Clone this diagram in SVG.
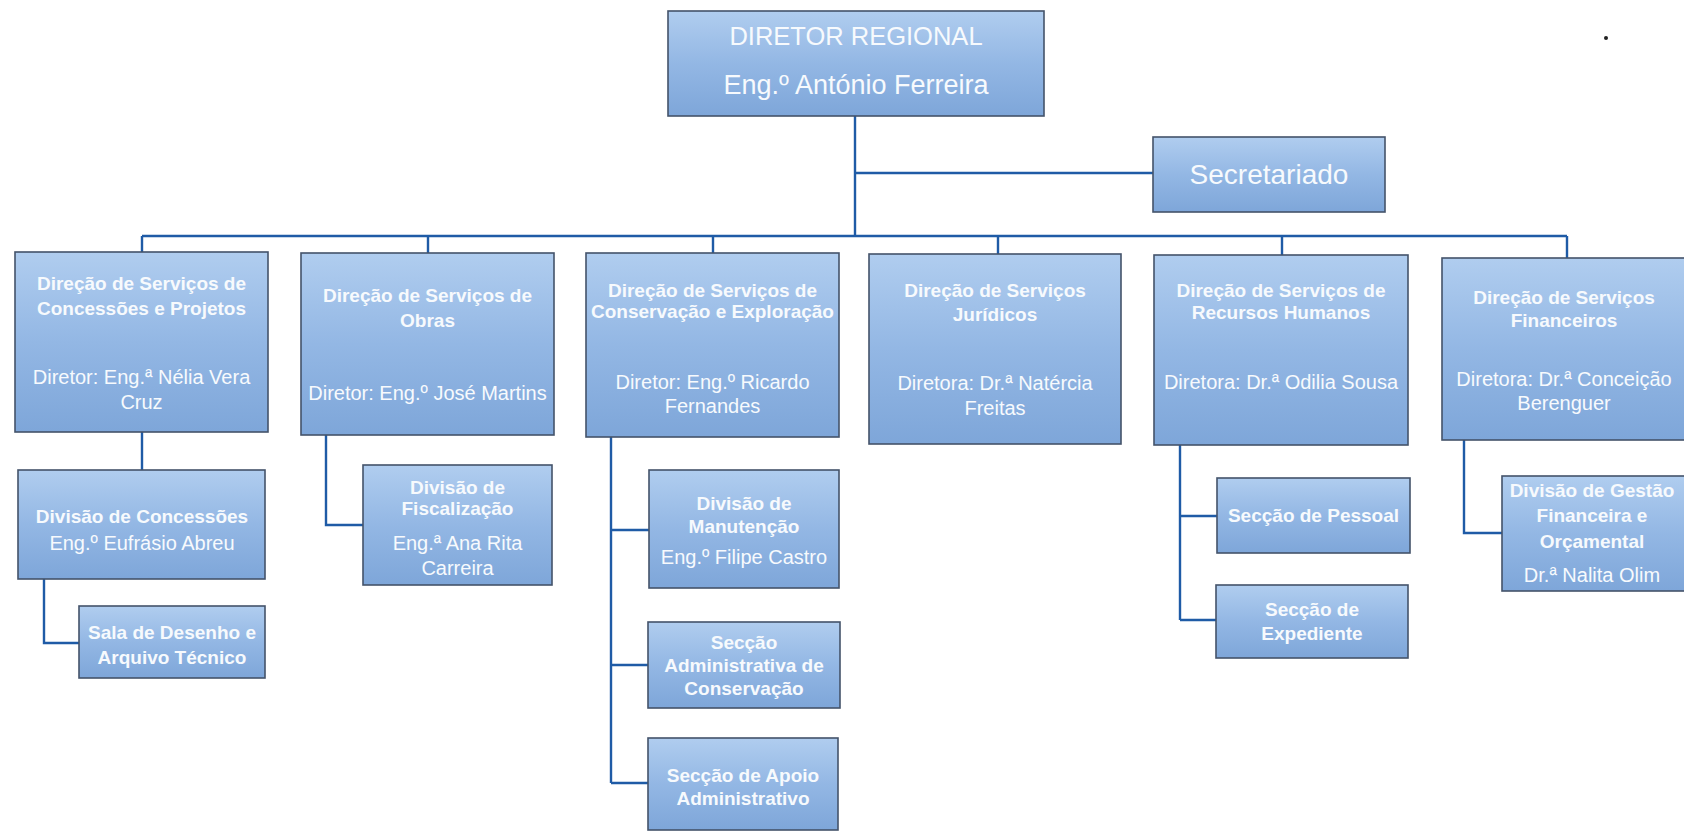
<svg xmlns="http://www.w3.org/2000/svg" width="1684" height="835" viewBox="0 0 1684 835">
<defs>
<linearGradient id="g" x1="0" y1="0" x2="0" y2="1">
<stop offset="0" stop-color="#b0cdef"/>
<stop offset="0.5" stop-color="#93b7e4"/>
<stop offset="1" stop-color="#7ea6d9"/>
</linearGradient>
<style>
.box{fill:url(#g);stroke:#44536a;stroke-width:1.6}
.t{font-family:"Liberation Sans",Arial,sans-serif;fill:#f7fafd;text-anchor:middle}
.b{font-weight:bold;font-size:19px}
.r{font-size:20px}
.s{font-size:20px}
.con{fill:none;stroke:#1f5ba6;stroke-width:2.4}
</style>
</defs>
<rect width="1684" height="835" fill="#ffffff"/>
<g id="connectors">
<path class="con" d="M855 116V236M855 173H1153M142 236H1567M142 236V252M428 236V253M713 236V253M998 236V254M1282 236V255M1567 236V258"/>
<path class="con" d="M142 432V470M44 579V643H79M326 435V525H363M611 437V783M611 530H649M611 665H648M611 783H648M1180 445V620M1180 516H1217M1180 620H1216M1464 440V533H1502"/>
</g>
<g id="director">
<rect class="box" x="668" y="11" width="376" height="105"/>
<text class="t" x="856" y="45" font-size="25.5">DIRETOR REGIONAL</text>
<text class="t" x="856" y="94" font-size="27">Eng.º António Ferreira</text>
</g>
<g id="secretariado">
<rect class="box" x="1153" y="137" width="232" height="75"/>
<text class="t" x="1269" y="184" font-size="28">Secretariado</text>
</g>
<g id="ds-concessoes">
<rect class="box" x="15" y="252" width="253" height="180"/>
<text class="t b" x="141.5" y="289.5">Direção de Serviços de</text>
<text class="t b" x="141.5" y="314.5">Concessões e Projetos</text>
<text class="t r" x="141.5" y="384">Diretor: Eng.ª Nélia Vera</text>
<text class="t r" x="141.5" y="409">Cruz</text>
</g>
<g id="ds-obras">
<rect class="box" x="301" y="253" width="253" height="182"/>
<text class="t b" x="427.5" y="302">Direção de Serviços de</text>
<text class="t b" x="427.5" y="327">Obras</text>
<text class="t r" x="427.5" y="399.5">Diretor: Eng.º José Martins</text>
</g>
<g id="ds-conservacao">
<rect class="box" x="586" y="253" width="253" height="184"/>
<text class="t b" x="712.5" y="296.5">Direção de Serviços de</text>
<text class="t b" x="712.5" y="317.5">Conservação e Exploração</text>
<text class="t r" x="712.5" y="388.5">Diretor: Eng.º Ricardo</text>
<text class="t r" x="712.5" y="412.5">Fernandes</text>
</g>
<g id="ds-juridicos">
<rect class="box" x="869" y="254" width="252" height="190"/>
<text class="t b" x="995" y="296.5">Direção de Serviços</text>
<text class="t b" x="995" y="320.5">Jurídicos</text>
<text class="t r" x="995" y="389.5">Diretora: Dr.ª Natércia</text>
<text class="t r" x="995" y="414.5">Freitas</text>
</g>
<g id="ds-rh">
<rect class="box" x="1154" y="255" width="254" height="190"/>
<text class="t b" x="1281" y="296.5">Direção de Serviços de</text>
<text class="t b" x="1281" y="318.5">Recursos Humanos</text>
<text class="t r" x="1281" y="388.5">Diretora: Dr.ª Odilia Sousa</text>
</g>
<g id="ds-financeiros">
<rect class="box" x="1442" y="258" width="250" height="182"/>
<text class="t b" x="1564" y="304">Direção de Serviços</text>
<text class="t b" x="1564" y="327">Financeiros</text>
<text class="t r" x="1564" y="386">Diretora: Dr.ª Conceição</text>
<text class="t r" x="1564" y="410">Berenguer</text>
</g>
<g id="div-concessoes">
<rect class="box" x="18" y="470" width="247" height="109"/>
<text class="t b" x="142" y="523">Divisão de Concessões</text>
<text class="t s" x="142" y="550">Eng.º Eufrásio Abreu</text>
</g>
<g id="sala-desenho">
<rect class="box" x="79" y="606" width="186" height="72"/>
<text class="t b" x="172" y="639">Sala de Desenho e</text>
<text class="t b" x="172" y="664">Arquivo Técnico</text>
</g>
<g id="div-fiscalizacao">
<rect class="box" x="363" y="465" width="189" height="120"/>
<text class="t b" x="457.5" y="494">Divisão de</text>
<text class="t b" x="457.5" y="515">Fiscalização</text>
<text class="t s" x="457.5" y="550">Eng.ª Ana Rita</text>
<text class="t s" x="457.5" y="575">Carreira</text>
</g>
<g id="div-manutencao">
<rect class="box" x="649" y="470" width="190" height="118"/>
<text class="t b" x="744" y="509.5">Divisão de</text>
<text class="t b" x="744" y="532.5">Manutenção</text>
<text class="t s" x="744" y="564">Eng.º Filipe Castro</text>
</g>
<g id="sec-adm-conservacao">
<rect class="box" x="648" y="622" width="192" height="86"/>
<text class="t b" x="744" y="648.5">Secção</text>
<text class="t b" x="744" y="671.5">Administrativa de</text>
<text class="t b" x="744" y="694.5">Conservação</text>
</g>
<g id="sec-apoio">
<rect class="box" x="648" y="738" width="190" height="92"/>
<text class="t b" x="743" y="781.5">Secção de Apoio</text>
<text class="t b" x="743" y="804.5">Administrativo</text>
</g>
<g id="sec-pessoal">
<rect class="box" x="1217" y="478" width="193" height="75"/>
<text class="t b" x="1313.5" y="522">Secção de Pessoal</text>
</g>
<g id="sec-expediente">
<rect class="box" x="1216" y="585" width="192" height="73"/>
<text class="t b" x="1312" y="615.5">Secção de</text>
<text class="t b" x="1312" y="639.5">Expediente</text>
</g>
<g id="div-gestao">
<rect class="box" x="1502" y="476" width="190" height="115"/>
<text class="t b" x="1592" y="497">Divisão de Gestão</text>
<text class="t b" x="1592" y="522">Financeira e</text>
<text class="t b" x="1592" y="548">Orçamental</text>
<text class="t s" x="1592" y="582">Dr.ª Nalita Olim</text>
</g>
<circle cx="1606" cy="38" r="2" fill="#222"/>
</svg>
